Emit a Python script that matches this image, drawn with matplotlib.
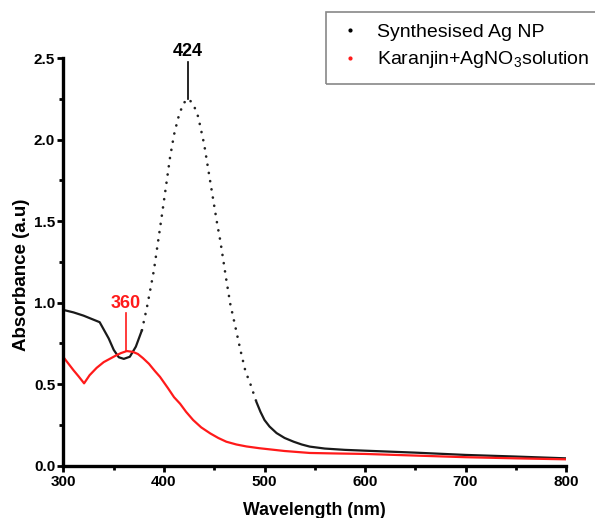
import numpy as np
import matplotlib.pyplot as plt
from matplotlib.patches import Rectangle

plt.rcParams['font.family'] = ['Liberation Sans', 'DejaVu Sans']
plt.rcParams['mathtext.default'] = 'regular'

# Synthesised Ag NP (black), split where the instrument dots spread out
ag_wl_a = [300, 310, 320, 328, 336, 345, 350, 355, 360, 366, 372, 378]
ag_abs_a = [0.955, 0.94, 0.92, 0.90, 0.88, 0.78, 0.71, 0.665, 0.655, 0.668, 0.73, 0.83]

ag_wl_b = [378, 383, 387, 390, 394, 398, 401, 406, 410, 414, 419, 424,
           429, 434, 440, 445, 449, 453, 456, 462, 466, 470, 476, 481, 486, 492]
ag_abs_b = [0.83, 0.97, 1.10, 1.20, 1.37, 1.54, 1.67, 1.89, 2.03, 2.13, 2.22, 2.25,
            2.22, 2.14, 1.97, 1.78, 1.63, 1.48, 1.38, 1.14, 0.99, 0.88, 0.71, 0.58, 0.50, 0.39]

ag_wl_c = [492, 496, 500, 505, 512, 520, 529, 537, 545, 560, 580, 600, 650, 700, 750, 800]
ag_abs_c = [0.39, 0.33, 0.28, 0.24, 0.20, 0.17, 0.147, 0.13, 0.117, 0.105, 0.097, 0.092,
            0.08, 0.066, 0.056, 0.045]

# Karanjin + AgNO3 solution (red)
kr_wl = [300, 305, 310, 315, 320.5, 326, 333, 340, 346, 352, 357, 363, 369, 374, 379,
         385, 391, 396, 404, 410, 416, 422, 429, 437, 446, 454, 462, 472, 482, 495,
         520, 545, 570, 600, 650, 700, 750, 800]
kr_abs = [0.665, 0.625, 0.585, 0.548, 0.505, 0.555, 0.60, 0.635, 0.655, 0.675, 0.69, 0.703,
          0.698, 0.685, 0.66, 0.625, 0.58, 0.545, 0.475, 0.42, 0.38, 0.33, 0.28, 0.235,
          0.198, 0.17, 0.147, 0.13, 0.118, 0.107, 0.09, 0.078, 0.075, 0.072, 0.062,
          0.052, 0.045, 0.039]

fig = plt.figure(figsize=(5.95, 5.18), dpi=100)
ax = fig.add_axes([0.1067, 0.101, 0.8446, 0.787])

ax.plot(ag_wl_a, ag_abs_a, color='#1a1a1a', lw=1.6)
ax.plot(ag_wl_b, ag_abs_b, color='#222222', lw=1.9,
        linestyle=(0, (0.05, 3.1)), dash_capstyle='round')
ax.plot(ag_wl_c, ag_abs_c, color='#1a1a1a', lw=1.6)
ax.plot(kr_wl, kr_abs, color='#ff1a1a', lw=1.6)

# peak markers
ax.plot([424, 424], [2.25, 2.475], color='black', lw=1.2, clip_on=False)
ax.text(424, 2.485, '424', ha='center', va='bottom', fontsize=13,
        fontweight='bold', color='black')
ax.plot([362, 362], [0.705, 0.935], color='#ff1a1a', lw=1.2)
ax.text(362, 0.945, '360', ha='center', va='bottom', fontsize=13,
        fontweight='bold', color='#ff1a1a')

ax.set_xlim(300, 800)
ax.set_ylim(0, 2.5)
ax.set_xticks([300, 400, 500, 600, 700, 800])
ax.set_xticks([350, 450, 550, 650, 750], minor=True)
ax.set_yticks([0.0, 0.5, 1.0, 1.5, 2.0, 2.5])
ax.set_yticks([0.25, 0.75, 1.25, 1.75, 2.25], minor=True)
ax.set_yticklabels(['0.0', '0.5', '1.0', '1.5', '2.0', '2.5'])

for s in ['top', 'right']:
    ax.spines[s].set_visible(False)
for s in ['left', 'bottom']:
    ax.spines[s].set_linewidth(2.4)

ax.tick_params(which='major', direction='out', length=4, width=2,
               labelsize=11)
ax.tick_params(which='minor', direction='out', length=3, width=2)
for lab in ax.get_xticklabels() + ax.get_yticklabels():
    lab.set_fontweight('bold')
ax.tick_params(axis='x', pad=3)
ax.tick_params(axis='y', pad=2)

ax.set_xlabel('Wavelength (nm)', fontsize=12.8, fontweight='bold', labelpad=9)
ax.set_ylabel('Absorbance (a.u)', fontsize=13.5, fontweight='bold')
ax.yaxis.set_label_coords(-0.066, 0.468)

# legend
h1, = ax.plot([], [], 'o', color='black', ms=2)
h2, = ax.plot([], [], 'o', color='#ff1a1a', ms=2)
leg = fig.legend([h1, h2], ['Synthesised Ag NP', r'Karanjin+AgNO$_3$solution'],
                 loc='upper left', bbox_to_anchor=(340 / 595, 1 - 23 / 518),
                 frameon=False, fontsize=14, handlelength=1.0,
                 handletextpad=0.9, labelspacing=0.45, borderpad=0,
                 borderaxespad=0)
fig.patches.append(Rectangle((326 / 595, 1 - 84 / 518), 300 / 595, 72 / 518,
                             transform=fig.transFigure, fill=False,
                             edgecolor='#888888', lw=1.2))

fig.savefig('out.png', dpi=100)
